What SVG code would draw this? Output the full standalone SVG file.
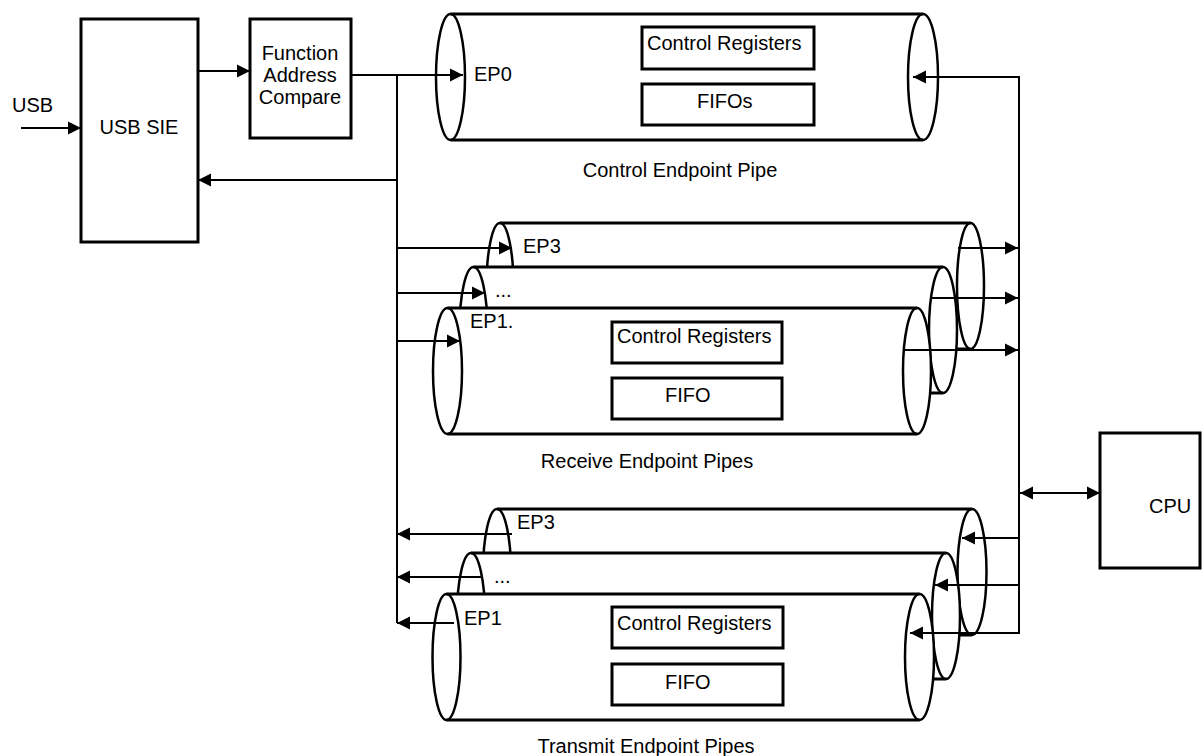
<svg xmlns="http://www.w3.org/2000/svg" width="1202" height="756" viewBox="0 0 1202 756">
<defs>
<marker id="ah" markerUnits="userSpaceOnUse" markerWidth="14" markerHeight="14" refX="13" refY="7" orient="auto-start-reverse" viewBox="0 0 14 14">
<path d="M0,0.5 L13,7 L0,13.5 Z" fill="#000"/>
</marker>
<style>
text{font-family:"Liberation Sans",Arial,sans-serif;font-size:20px;fill:#000}
.box{fill:#fff;stroke:#000;stroke-width:3}
.body{fill:#fff;stroke:none}
.edge{stroke:#000;stroke-width:3;fill:none}
.end{stroke:#000;stroke-width:2.5;fill:none}
.c{stroke:#000;stroke-width:2;fill:none}
.a{marker-end:url(#ah)}
.m{text-anchor:middle}
</style>
</defs>
<rect width="1202" height="756" fill="#fff"/>

<g id="usb-sie">
<rect class="box" x="81" y="19" width="117" height="223"/>
<text class="m" x="139" y="134">USB SIE</text>
</g>
<g id="fac">
<rect class="box" x="250" y="19" width="101" height="119"/>
<text class="m" x="300" y="60">Function</text>
<text class="m" x="300" y="82">Address</text>
<text class="m" x="300" y="104">Compare</text>
</g>
<text x="12" y="112">USB</text>

<g id="control-pipe">
<path class="body" d="M450.5,14 H923 A15,63 0 0 1 923,140 H450.5 A14.5,63 0 0 1 450.5,14 Z"/>
<line class="edge" x1="450.5" y1="14" x2="923" y2="14"/>
<line class="edge" x1="450.5" y1="140" x2="923" y2="140"/>
<ellipse class="end" cx="450.5" cy="77" rx="14.5" ry="63"/>
<ellipse class="end" cx="923" cy="77" rx="15" ry="63"/>
<rect class="box" x="642" y="27" width="172" height="42"/>
<rect class="box" x="642" y="84" width="172" height="41"/>
<text x="647" y="50">Control Registers</text>
<text x="697" y="108">FIFOs</text>
<text x="474" y="81">EP0</text>
<text class="m" x="680" y="177">Control Endpoint Pipe</text>
</g>

<g id="rx-ep3">
<path class="body" d="M500,223 H970.5 A14,63 0 0 1 970.5,349 H500 A14,63 0 0 1 500,223 Z"/>
<line class="edge" x1="500" y1="223" x2="970.5" y2="223"/>
<line class="edge" x1="500" y1="349" x2="970.5" y2="349"/>
<ellipse class="end" cx="500" cy="286" rx="13.5" ry="63"/>
<ellipse class="end" cx="970.5" cy="286" rx="13.5" ry="63"/>
<text x="523" y="253">EP3</text>
</g>
<g id="rx-epn">
<path class="body" d="M473.5,267 H943 A14,63 0 0 1 943,393 H473.5 A14,63 0 0 1 473.5,267 Z"/>
<line class="edge" x1="473.5" y1="267" x2="943" y2="267"/>
<line class="edge" x1="473.5" y1="393" x2="943" y2="393"/>
<ellipse class="end" cx="473.5" cy="330" rx="14" ry="63"/>
<ellipse class="end" cx="943" cy="330" rx="14" ry="63"/>
<text x="495" y="297">...</text>
</g>
<g id="rx-ep1">
<path class="body" d="M447.5,308 H917 A14,63 0 0 1 917,434 H447.5 A14.5,63 0 0 1 447.5,308 Z"/>
<line class="edge" x1="447.5" y1="308" x2="917" y2="308"/>
<line class="edge" x1="447.5" y1="434" x2="917" y2="434"/>
<ellipse class="end" cx="447.5" cy="371" rx="14.5" ry="63"/>
<ellipse class="end" cx="917" cy="371" rx="14" ry="63"/>
<rect class="box" x="612" y="322" width="170" height="41"/>
<rect class="box" x="612" y="378" width="170" height="41"/>
<text x="617" y="343">Control Registers</text>
<text x="665" y="402">FIFO</text>
<text x="470" y="328">EP1.</text>
</g>
<text class="m" x="647" y="468">Receive Endpoint Pipes</text>

<g id="tx-ep3">
<path class="body" d="M497,509 H972 A14.5,63 0 0 1 972,635 H497 A14,63 0 0 1 497,509 Z"/>
<line class="edge" x1="497" y1="509" x2="972" y2="509"/>
<line class="edge" x1="497" y1="635" x2="972" y2="635"/>
<ellipse class="end" cx="497" cy="572" rx="14" ry="63"/>
<ellipse class="end" cx="972" cy="572" rx="14.5" ry="63"/>
<text x="517" y="529">EP3</text>
</g>
<g id="tx-epn">
<path class="body" d="M471,553 H946 A14,63 0 0 1 946,679 H471 A14,63 0 0 1 471,553 Z"/>
<line class="edge" x1="471" y1="553" x2="946" y2="553"/>
<line class="edge" x1="471" y1="679" x2="946" y2="679"/>
<ellipse class="end" cx="471" cy="616" rx="14" ry="63"/>
<ellipse class="end" cx="946" cy="616" rx="14" ry="63"/>
<text x="494" y="583">...</text>
</g>
<g id="tx-ep1">
<path class="body" d="M446.5,594 H919.5 A14.5,63 0 0 1 919.5,720 H446.5 A14,63 0 0 1 446.5,594 Z"/>
<line class="edge" x1="446.5" y1="594" x2="919.5" y2="594"/>
<line class="edge" x1="446.5" y1="720" x2="919.5" y2="720"/>
<ellipse class="end" cx="446.5" cy="657" rx="14" ry="63"/>
<ellipse class="end" cx="919.5" cy="657" rx="14.5" ry="63"/>
<rect class="box" x="612" y="607" width="171" height="41"/>
<rect class="box" x="612" y="664" width="171" height="41"/>
<text x="617" y="630">Control Registers</text>
<text x="665" y="689">FIFO</text>
<text x="464" y="625">EP1</text>
</g>
<text class="m" x="646" y="753">Transmit Endpoint Pipes</text>

<g id="cpu">
<rect class="box" x="1100" y="433" width="100" height="135"/>
<text x="1149" y="513">CPU</text>
</g>

<g id="connectors">
<line class="c a" x1="21" y1="128" x2="81" y2="128"/>
<line class="c a" x1="198" y1="71" x2="250" y2="71"/>
<line class="c a" x1="351" y1="75" x2="463" y2="75"/>
<line class="c" x1="397" y1="74" x2="397" y2="623"/>
<line class="c a" x1="397" y1="180" x2="198" y2="180"/>
<line class="c a" x1="397" y1="248" x2="512" y2="248"/>
<line class="c a" x1="397" y1="293" x2="485" y2="293"/>
<line class="c a" x1="397" y1="341" x2="460" y2="341"/>
<line class="c a" x1="512" y1="534" x2="397" y2="534"/>
<line class="c a" x1="483" y1="577" x2="397" y2="577"/>
<line class="c a" x1="454" y1="623" x2="397" y2="623"/>
<line class="c" x1="1019" y1="76" x2="1019" y2="634"/>
<line class="c a" x1="1019" y1="77" x2="913" y2="77"/>
<line class="c a" x1="958" y1="248" x2="1018" y2="248"/>
<line class="c a" x1="930" y1="298" x2="1018" y2="298"/>
<line class="c a" x1="905" y1="350" x2="1018" y2="350"/>
<line class="c a" x1="1019" y1="538" x2="962" y2="538"/>
<line class="c a" x1="1019" y1="585" x2="935" y2="585"/>
<line class="c a" x1="1019" y1="633" x2="910" y2="633"/>
<line class="c a" x1="1020" y1="493" x2="1100" y2="493" marker-start="url(#ah)"/>
</g>
</svg>
